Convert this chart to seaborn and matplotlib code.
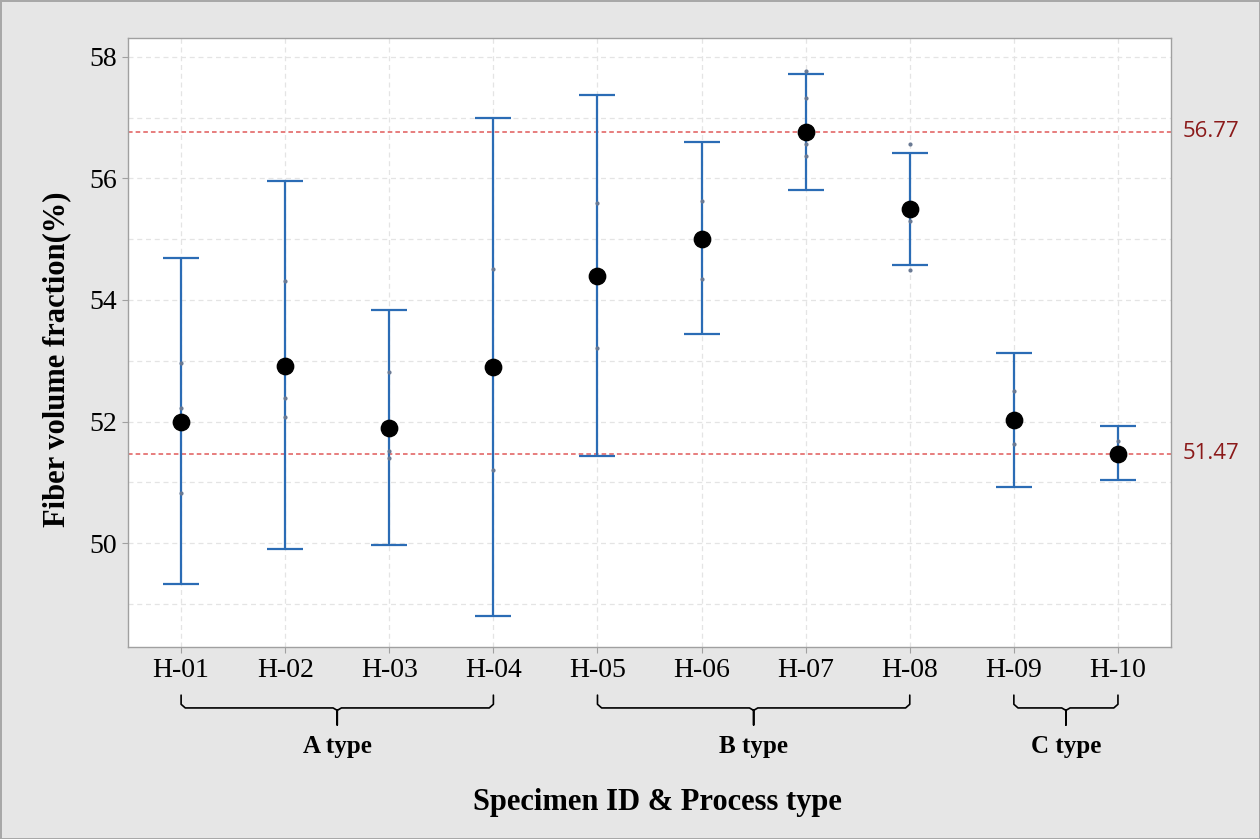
import numpy as np
import pandas as pd
import matplotlib.pyplot as plt
import matplotlib.transforms as mtransforms
from matplotlib.ticker import MultipleLocator
import seaborn as sns

ids = ["H-01", "H-02", "H-03", "H-04", "H-05", "H-06", "H-07", "H-08", "H-09", "H-10"]
means = [52.00, 52.92, 51.90, 52.90, 54.40, 55.00, 56.77, 55.50, 52.02, 51.47]
upper = [54.69, 55.96, 53.84, 57.00, 57.37, 56.60, 57.72, 56.42, 53.12, 51.92]
lower = [49.32, 49.90, 49.97, 48.80, 51.43, 53.44, 55.81, 54.58, 50.93, 51.03]
samples = [
    [52.96, 52.22, 50.83],
    [54.32, 52.39, 52.07],
    [52.81, 51.51, 51.40],
    [54.51, 51.21],
    [55.60, 53.21],
    [55.63, 54.35],
    [57.76, 57.32, 56.56, 56.37],
    [56.57, 55.30, 54.49],
    [52.51, 51.63],
    [51.68],
]
ref_values = [56.77, 51.47]
groups = ["A type", "B type", "C type"]
group_span = [(0, 3), (4, 7), (8, 9)]

sns.set_theme(style="white")
plt.rcParams["font.family"] = ["Liberation Serif", "DejaVu Serif"]
plt.rcParams["text.color"] = "black"
plt.rcParams["axes.labelcolor"] = "black"
plt.rcParams["xtick.color"] = "black"
plt.rcParams["ytick.color"] = "black"

pts = pd.DataFrame(
    [(i, v) for i, vals in zip(ids, samples) for v in vals], columns=["id", "value"]
)

fig = plt.figure(figsize=(12.6, 8.39), dpi=100)
fig.patch.set_facecolor("#e6e6e6")
fig.patch.set_edgecolor("#a8a8a8")
fig.patch.set_linewidth(2)
ax = fig.add_axes([0.1016, 0.2288, 0.8278, 0.7259])
ax.set_facecolor("white")

x = np.arange(len(ids))
m = np.array(means)
ax.errorbar(x, m, yerr=[m - np.array(lower), np.array(upper) - m], fmt="none",
            ecolor="#2b6cb5", elinewidth=1.6, capsize=13, capthick=1.6, zorder=2)
sns.stripplot(data=pts, x="id", y="value", order=ids, jitter=False, size=3,
              color="#6a7a94", ax=ax, zorder=3)
sns.scatterplot(x=x, y=means, s=140, color="black", edgecolor="black", ax=ax, zorder=4)

for v in ref_values:
    ax.axhline(v, color="#e05a5a", linestyle=(0, (3, 2)), linewidth=1.1, zorder=1)
    ax.text(1.0115, v, f"{v:.2f}", transform=ax.get_yaxis_transform(), ha="left",
            va="center", fontsize=16, color="#8b1a1a", family=["Open Sans", "DejaVu Sans"])

ax.set_xlim(-0.51, 9.51)
ax.set_ylim(48.29, 58.31)
ax.yaxis.set_major_locator(MultipleLocator(2))
ax.yaxis.set_minor_locator(MultipleLocator(1))
ax.grid(True, which="both", color="#e4e4e4", linestyle=(0, (4, 3)), linewidth=0.9)
ax.set_axisbelow(True)
for s in ax.spines.values():
    s.set_color("#a0a0a0")
    s.set_linewidth(1)
ax.tick_params(axis="both", which="major", labelsize=20, length=4, width=0.8,
               color="#a0a0a0", labelcolor="black", pad=4, direction="out",
               bottom=True, left=True)
ax.tick_params(axis="y", which="minor", length=0)

ax.set_ylabel("Fiber volume fraction(%)", fontsize=22, fontweight="bold")
ax.yaxis.set_label_coords(-0.068, 0.473)
ax.set_xlabel("Specimen ID & Process type", fontsize=22, fontweight="bold")
ax.xaxis.set_label_coords(0.508, -0.256)
ax.xaxis.label.set_va("center")
ax.yaxis.label.set_va("center")

# braces under group ticks
trans = mtransforms.blended_transform_factory(ax.transData, ax.transAxes)
y_top, y_bar, y_tip = -0.079, -0.100, -0.128
for name, (a, b) in zip(groups, group_span):
    c = (a + b) / 2
    ax.plot([a, a, a + 0.04, c - 0.04, c, c, c, c + 0.04, b - 0.04, b, b],
            [y_top, y_bar + 0.006, y_bar, y_bar, y_bar - 0.004, y_tip, y_bar - 0.004,
             y_bar, y_bar, y_bar + 0.006, y_top],
            transform=trans, color="black", linewidth=1.2, clip_on=False,
            solid_joinstyle="round")
    ax.text(c, -0.1626, name, transform=trans, ha="center", va="center",
            fontsize=18, fontweight="bold")

fig.savefig("out.png", dpi=100, facecolor=fig.get_facecolor(), edgecolor=fig.get_edgecolor())
